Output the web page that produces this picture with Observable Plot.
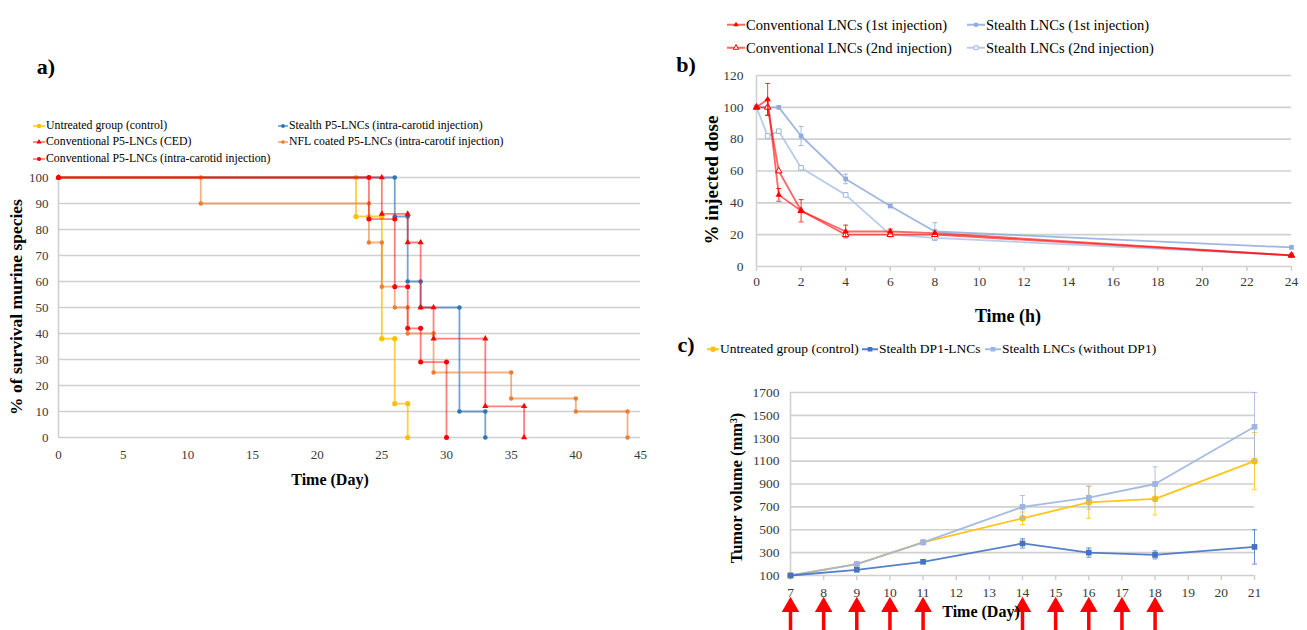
<!DOCTYPE html>
<html>
<head>
<meta charset="utf-8">
<script src="https://cdn.jsdelivr.net/npm/d3@7"></script>
<script src="https://cdn.jsdelivr.net/npm/@observablehq/plot@0.6"></script>
<style>
html,body{margin:0;padding:0;background:#fff;}
#root{position:relative;width:1307px;height:630px;overflow:hidden;font-family:"Liberation Serif","Times New Roman",serif;color:#000;}
.lbl{position:absolute;white-space:nowrap;line-height:1;}
</style>
</head>
<body>
<div id="root"></div>
<script>
// ================= DATA =================
// Panel a) survival (Kaplan-Meier steps, vertices read from the picture)
const survivalGroups = [
  "Untreated group (control)",
  "Conventional P5-LNCs (CED)",
  "Conventional P5-LNCs (intra-carotid injection)",
  "Stealth P5-LNCs (intra-carotid injection)",
  "NFL coated P5-LNCs (intra-carotif injection)"
];
const untreatedDays = [0, 23, 23, 24, 25, 25, 26, 26, 27, 27];
const untreatedSurv = [100, 100, 85, 85, 85, 38, 38, 13, 13, 0];
const cedDays = [0, 25, 25, 27, 27, 28, 28, 29, 29, 33, 33, 36, 36];
const cedSurv = [100, 100, 86, 86, 75, 75, 50, 50, 38, 38, 12, 12, 0];
const icDays = [0, 24, 24, 26, 26, 27, 27, 28, 28, 30, 30];
const icSurv = [100, 100, 84, 84, 58, 58, 42, 42, 29, 29, 0];
const stealthDays = [0, 26, 26, 27, 27, 28, 28, 31, 31, 33, 33];
const stealthSurv = [100, 100, 85, 85, 60, 60, 50, 50, 10, 10, 0];
const nflDays = [0, 11, 11, 24, 24, 25, 25, 26, 26, 27, 27, 29, 29, 35, 35, 40, 40, 44, 44];
const nflSurv = [100, 100, 90, 90, 75, 75, 58, 58, 50, 50, 40, 40, 25, 25, 15, 15, 10, 10, 0];
const survTicksX = [0, 5, 10, 15, 20, 25, 30, 35, 40, 45];
const survTicksY = [0, 10, 20, 30, 40, 50, 60, 70, 80, 90, 100];

// Panel b) % injected dose
const pkGroups = [
  "Conventional LNCs (1st injection)",
  "Conventional LNCs (2nd injection)",
  "Stealth LNCs (1st injection)",
  "Stealth LNCs (2nd injection)"
];
const pkTime = [0, 0.5, 1, 2, 4, 6, 8, 24];
const conv1Dose = [100, 105, 45, 35, 22, 22, 21, 7];
const conv1Err = [0, 10, 4, 0, 4, 1.5, 0, 0];
const conv2Dose = [100, 100, 60, 35, 20, 20, 20, 7];
const conv2Err = [0, 5, 0, 7, 0, 0, 0, 0];
const stealth1Dose = [100, 100, 100, 82, 55, 38, 22, 12];
const stealth1Err = [0, 0, 0, 6, 3, 1, 5.5, 0];
const stealth2Dose = [100, 82, 85, 62, 45, 20, 18, 7];
const stealth2Err = [0, 0, 0, 0, 0, 0, 0, 0];
const pkTicksX = [0, 2, 4, 6, 8, 10, 12, 14, 16, 18, 20, 22, 24];
const pkTicksY = [0, 20, 40, 60, 80, 100, 120];

// Panel c) tumor volume
const tumorGroups = ["Untreated group (control)", "Stealth DP1-LNCs", "Stealth LNCs (without DP1)"];
const tumorDays = [7, 9, 11, 14, 16, 18, 21];
const untreatedVol = [100, 200, 390, 600, 740, 770, 1100];
const untreatedVolErr = [0, 0, 0, 55, 140, 140, 250];
const dp1Vol = [100, 150, 220, 380, 300, 280, 350];
const dp1VolErr = [0, 0, 0, 40, 40, 35, 150];
const noDp1Vol = [100, 200, 390, 700, 780, 900, 1400];
const noDp1VolErr = [0, 0, 0, 100, 100, 150, 300];
const injectionDays = [7, 8, 9, 10, 11, 14, 15, 16, 17, 18];
const tumorTicksX = [7, 8, 9, 10, 11, 12, 13, 14, 15, 16, 17, 18, 19, 20, 21];
const tumorTicksY = [100, 300, 500, 700, 900, 1100, 1300, 1500, 1700];

// ================= STYLES =================
const FONT = '"Liberation Serif","Times New Roman",serif';
const GRID = "#d0d0d0";
const TICKTXT = "#3a3a3a";
const survStyles = [
  {color: "#ffc000", symbol: "circle", r: 2.6, lineOpacity: 0.75},
  {color: "#ff0000", symbol: "triangle", r: 2.3, lineOpacity: 0.5},
  {color: "#ff0000", symbol: "circle", r: 2.5, lineOpacity: 0.5},
  {color: "#2e75b6", symbol: "circle", r: 2.3, lineOpacity: 0.65},
  {color: "#ed7d31", symbol: "circle", r: 2.2, lineOpacity: 0.6}
];
const pkStyles = [
  {color: "#ff0000", symbol: "triangle", r: 2.4, lineOpacity: 0.6},
  {color: "#ff0000", symbol: "triangle", r: 2.4, lineOpacity: 0.6, fill: "#fff", stroke: "#ff0000"},
  {color: "#8faadc", symbol: "square", r: 2.6, lineOpacity: 0.85},
  {color: "#aec3e8", symbol: "square", r: 2.6, lineOpacity: 0.85, fill: "#fff", stroke: "#9db5e0"}
];
const tumorStyles = [
  {color: "#ffc000", symbol: "circle", r: 3.3, lineOpacity: 0.9},
  {color: "#4472c4", symbol: "square", r: 3.2, lineOpacity: 0.9},
  {color: "#9db5e0", symbol: "square", r: 3.2, lineOpacity: 0.9}
];

const root = document.getElementById("root");
const capSymbol = {draw(ctx, size) { const w = Math.sqrt(size / Math.PI); ctx.moveTo(-w, 0); ctx.lineTo(w, 0); }};
const plainNum = d => String(d);

function rowsOf(xs, ys, es) {
  return xs.map((x, i) => ({x, y: ys[i], e: es ? es[i] : 0}));
}
function seriesMarks(rows, st, withErr) {
  const marks = [];
  if (withErr) {
    const er = rows.filter(d => d.e > 0);
    const c = st.stroke ?? st.color;
    marks.push(Plot.ruleX(er, {x: "x", y1: d => d.y - d.e, y2: d => d.y + d.e, stroke: c, strokeWidth: 1, strokeOpacity: 0.8}));
    marks.push(Plot.dot(er, {x: "x", y: d => d.y - d.e, symbol: capSymbol, r: 2.5, fill: "none", stroke: c, strokeWidth: 1, strokeOpacity: 0.8}));
    marks.push(Plot.dot(er, {x: "x", y: d => d.y + d.e, symbol: capSymbol, r: 2.5, fill: "none", stroke: c, strokeWidth: 1, strokeOpacity: 0.8}));
  }
  marks.push(Plot.line(rows, {x: "x", y: "y", stroke: st.color, strokeWidth: 1.8, strokeOpacity: st.lineOpacity}));
  marks.push(Plot.dot(rows, {x: "x", y: "y", symbol: st.symbol, r: st.r, fill: st.fill ?? st.color, stroke: st.stroke ?? "none", strokeWidth: 1}));
  return marks;
}
function place(svg, left, top) {
  svg.style.position = "absolute";
  svg.style.left = left + "px";
  svg.style.top = top + "px";
  svg.style.maxWidth = "none";
  root.appendChild(svg);
}
function label(html, x, y, {size = 14, bold = false, rotate = 0, color = "#000"} = {}) {
  const d = document.createElement("div");
  d.className = "lbl";
  d.innerHTML = html;
  d.style.left = x + "px"; d.style.top = y + "px";
  d.style.fontSize = size + "px";
  d.style.fontWeight = bold ? "bold" : "normal";
  d.style.color = color;
  d.style.transform = "translate(-50%,-50%)" + (rotate ? ` rotate(${rotate}deg)` : "");
  root.appendChild(d);
}
function legendItem(text, st, x, y, size, lineLen) {
  const d = document.createElement("div");
  d.className = "lbl";
  d.style.left = x + "px"; d.style.top = y + "px";
  d.style.transform = "translateY(-50%)";
  d.style.fontSize = size + "px";
  d.style.display = "flex"; d.style.alignItems = "center";
  const svg = d3.create("svg").attr("width", lineLen).attr("height", 12).style("flex", "none");
  svg.append("line").attr("x1", 0).attr("x2", lineLen).attr("y1", 6).attr("y2", 6)
    .attr("stroke", st.color).attr("stroke-width", 1.8).attr("stroke-opacity", st.lineOpacity);
  const sym = {circle: d3.symbolCircle, triangle: d3.symbolTriangle, square: d3.symbolSquare}[st.symbol];
  svg.append("path").attr("transform", `translate(${lineLen / 2},6)`)
    .attr("d", d3.symbol(sym, Math.PI * st.r * st.r * 0.7)())
    .attr("fill", st.fill ?? st.color).attr("stroke", st.stroke ?? "none");
  d.appendChild(svg.node());
  const span = document.createElement("span");
  span.textContent = text;
  span.style.marginLeft = "1px";
  d.appendChild(span);
  root.appendChild(d);
}

// ================= PANEL A =================
const survSeries = [
  [untreatedDays, untreatedSurv], [cedDays, cedSurv], [icDays, icSurv], [stealthDays, stealthSurv], [nflDays, nflSurv]
];
const survOrder = [0, 3, 4, 1, 2];
const plotA = Plot.plot({
  width: 660, height: 330,
  marginLeft: 58, marginRight: 20, marginTop: 12, marginBottom: 58,
  x: {domain: [0, 45]}, y: {domain: [0, 100]},
  style: {fontFamily: FONT, background: "transparent", overflow: "visible"},
  marks: [
    Plot.ruleY(survTicksY, {stroke: GRID, strokeWidth: 1.6}),
    Plot.ruleX([0], {y1: 0, y2: 100, stroke: GRID, strokeWidth: 1.6}),
    Plot.axisY({ticks: survTicksY, tickFormat: plainNum, tickSize: 0, tickPadding: 10, label: null, fontSize: 13, fill: TICKTXT}),
    Plot.axisX({ticks: survTicksX, tickFormat: plainNum, tickSize: 0, tickPadding: 12, label: null, fontSize: 13, fill: TICKTXT}),
    ...survOrder.flatMap(i => seriesMarks(rowsOf(survSeries[i][0], survSeries[i][1]), survStyles[i], false))
  ]
});
place(plotA, 0, 165);
label("a)", 46, 67, {size: 22, bold: true});
label("Time (Day)", 330, 480, {size: 16, bold: true});
label("% of survival murine species", 17, 307, {size: 17.5, bold: true, rotate: -90});
legendItem(survivalGroups[0], survStyles[0], 33, 126, 11.8, 12);
legendItem(survivalGroups[1], survStyles[1], 33, 142, 11.8, 12);
legendItem(survivalGroups[2], survStyles[2], 33, 159, 11.8, 12);
legendItem(survivalGroups[3], survStyles[3], 278, 126, 11.8, 10);
legendItem(survivalGroups[4], survStyles[4], 278, 142, 11.8, 10);

// ================= PANEL B =================
const pkSeries = [
  [conv1Dose, conv1Err], [conv2Dose, conv2Err], [stealth1Dose, stealth1Err], [stealth2Dose, stealth2Err]
];
const pkOrder = [3, 2, 1, 0];
const plotB = Plot.plot({
  width: 610, height: 270,
  marginLeft: 66, marginRight: 9, marginTop: 15, marginBottom: 64,
  x: {domain: [0, 24]}, y: {domain: [0, 120]},
  style: {fontFamily: FONT, background: "transparent", overflow: "visible"},
  marks: [
    Plot.ruleY(pkTicksY, {stroke: GRID, strokeWidth: 1.6}),
    Plot.ruleX([0], {y1: 0, y2: 120, stroke: GRID, strokeWidth: 1.6}),
    Plot.axisY({ticks: pkTicksY, tickFormat: plainNum, tickSize: 0, tickPadding: 13, label: null, fontSize: 13.5, fill: TICKTXT}),
    Plot.axisX({ticks: pkTicksX, tickFormat: plainNum, tickSize: 5, tickPadding: 5, label: null, fontSize: 13.5, fill: TICKTXT, stroke: GRID, strokeWidth: 1.5}),
    ...pkOrder.flatMap(i => seriesMarks(rowsOf(pkTime, pkSeries[i][0], pkSeries[i][1]), pkStyles[i], true))
  ]
});
place(plotB, 690, 60);
label("b)", 686, 65, {size: 22, bold: true});
label("Time (h)", 1008, 316, {size: 18, bold: true});
label("% injected dose", 711, 180, {size: 19, bold: true, rotate: -90});
legendItem(pkGroups[0], pkStyles[0], 727, 25, 14.5, 18);
legendItem(pkGroups[1], pkStyles[1], 727, 48, 14.5, 18);
legendItem(pkGroups[2], pkStyles[2], 967, 25, 14.5, 18);
legendItem(pkGroups[3], pkStyles[3], 967, 48, 14.5, 18);

// ================= PANEL C =================
const tumorSeries = [
  [untreatedVol, untreatedVolErr], [dp1Vol, dp1VolErr], [noDp1Vol, noDp1VolErr]
];
const plotC = Plot.plot({
  width: 610, height: 250,
  marginLeft: 100, marginRight: 46, marginTop: 12, marginBottom: 55,
  x: {domain: [7, 21]}, y: {domain: [100, 1700]},
  style: {fontFamily: FONT, background: "transparent", overflow: "visible"},
  marks: [
    Plot.ruleY(tumorTicksY, {stroke: GRID, strokeWidth: 1.6}),
    Plot.ruleX([7], {y1: 100, y2: 1700, stroke: GRID, strokeWidth: 1.6}),
    Plot.axisY({ticks: tumorTicksY, tickFormat: plainNum, tickSize: 0, tickPadding: 11, label: null, fontSize: 13.5, fill: TICKTXT}),
    Plot.axisX({ticks: tumorTicksX, tickFormat: plainNum, tickSize: 5, tickPadding: 7, label: null, fontSize: 13.5, fill: TICKTXT, stroke: GRID, strokeWidth: 1.5}),
    ...[0, 2, 1].flatMap(i => seriesMarks(rowsOf(tumorDays, tumorSeries[i][0], tumorSeries[i][1]), tumorStyles[i], true)),
    // injection arrows below the axis
    Plot.ruleX(injectionDays, {x: d => d, y1: -160, y2: -420, stroke: "#ff0000", strokeWidth: 3.5}),
    Plot.dot(injectionDays, {x: d => d, y: -175, symbol: "triangle", r: 6.5, fill: "#ff0000"})
  ]
});
place(plotC, 690, 380);
label("c)", 686, 345, {size: 22, bold: true});
label("Time (Day)", 981, 612, {size: 16, bold: true});
label("Tumor volume (mm<sup style='font-size:0.6em;vertical-align:0.55em'>3</sup>)", 737, 488, {size: 16.5, bold: true, rotate: -90});
legendItem(tumorGroups[0], tumorStyles[0], 707, 349, 13.5, 12);
legendItem(tumorGroups[1], tumorStyles[1], 862, 349, 13.5, 16);
legendItem(tumorGroups[2], tumorStyles[2], 985, 349, 13.5, 16);
</script>
</body>
</html>
